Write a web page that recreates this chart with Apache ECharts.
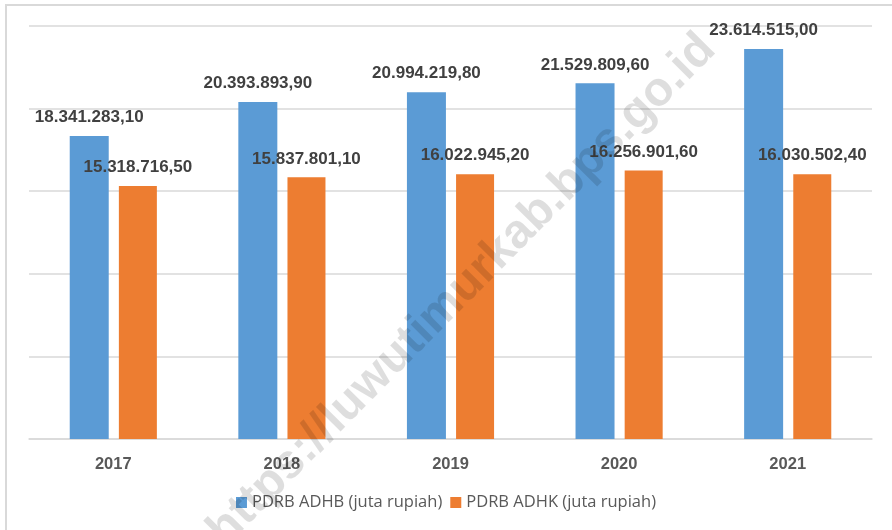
<!DOCTYPE html>
<html>
<head>
<meta charset="utf-8">
<script src="https://cdn.jsdelivr.net/npm/echarts@6/dist/echarts.min.js"></script>
<style>
  html, body { margin: 0; padding: 0; background: #fff; }
  #chart { width: 892px; height: 530px; }
</style>
</head>
<body>
<div id="chart"></div>
<script>
var years = ['2017', '2018', '2019', '2020', '2021']
var adhb = [18341283.10, 20393893.90, 20994219.80, 21529809.60, 23614515.00]
var adhk = [15318716.50, 15837801.10, 16022945.20, 16256901.60, 16030502.40]
var seriesNames = ['PDRB ADHB (juta rupiah)', 'PDRB ADHK (juta rupiah)']

// 18341283.1 -> "18.341.283,10"
function fmt(v) {
  var parts = v.toFixed(2).split('.')
  return parts[0].replace(/\B(?=(\d{3})+(?!\d))/g, '.') + ',' + parts[1]
}

var chart = echarts.init(document.getElementById('chart'))

var labelStyle = {
  show: true,
  position: 'top',
  distance: 10,
  fontFamily: 'Liberation Sans',
  fontWeight: 'bold',
  fontSize: 17,
  color: '#404040',
  formatter: function (p) { return fmt(p.value) }
}

chart.setOption({
  animation: false,
  grid: { left: 29, right: 20, top: 26, bottom: 91 },
  legend: {
    bottom: 14,
    left: 'center',
    icon: 'rect',
    itemWidth: 11,
    itemHeight: 11,
    itemGap: 8,
    selectedMode: false,
    textStyle: { fontFamily: 'Open Sans', fontSize: 16.5, color: '#595959' },
    data: seriesNames
  },
  xAxis: {
    type: 'category',
    data: years,
    axisLine: { lineStyle: { color: '#d9d9d9', width: 1.5 } },
    axisTick: { show: false },
    axisLabel: {
      margin: 17,
      fontFamily: 'Liberation Sans',
      fontWeight: 'bold',
      fontSize: 16.5,
      color: '#595959'
    }
  },
  yAxis: {
    type: 'value',
    min: 0,
    max: 25000000,
    interval: 5000000,
    axisLabel: { show: false },
    axisLine: { show: false },
    axisTick: { show: false },
    splitLine: { lineStyle: { color: '#d9d9d9', width: 1.5 } }
  },
  series: [
    {
      name: seriesNames[0],
      type: 'bar',
      data: adhb,
      barWidth: 39,
      barGap: '26%',
      itemStyle: { color: '#5b9bd5' },
      label: labelStyle
    },
    {
      name: seriesNames[1],
      type: 'bar',
      data: adhk,
      barWidth: 38,
      itemStyle: { color: '#ed7d31' },
      label: labelStyle
    }
  ],
  graphic: [
    {
      // chart frame, only left and top edges visible
      type: 'rect',
      shape: { x: 6, y: 5, width: 1000, height: 1000 },
      style: { fill: 'none', stroke: '#d9d9d9', lineWidth: 2 },
      silent: true
    },
    {
      // watermark
      type: 'text',
      x: 462,
      y: 290,
      rotation: 0.79,
      z: 100,
      silent: true,
      style: {
        text: 'https://luwutimurkab.bps.go.id',
        fontFamily: 'Liberation Sans',
        fontWeight: 'bold',
        fontSize: 48,
        fill: 'rgba(0,0,0,0.13)',
        align: 'center',
        verticalAlign: 'middle'
      }
    }
  ]
})
</script>
</body>
</html>
